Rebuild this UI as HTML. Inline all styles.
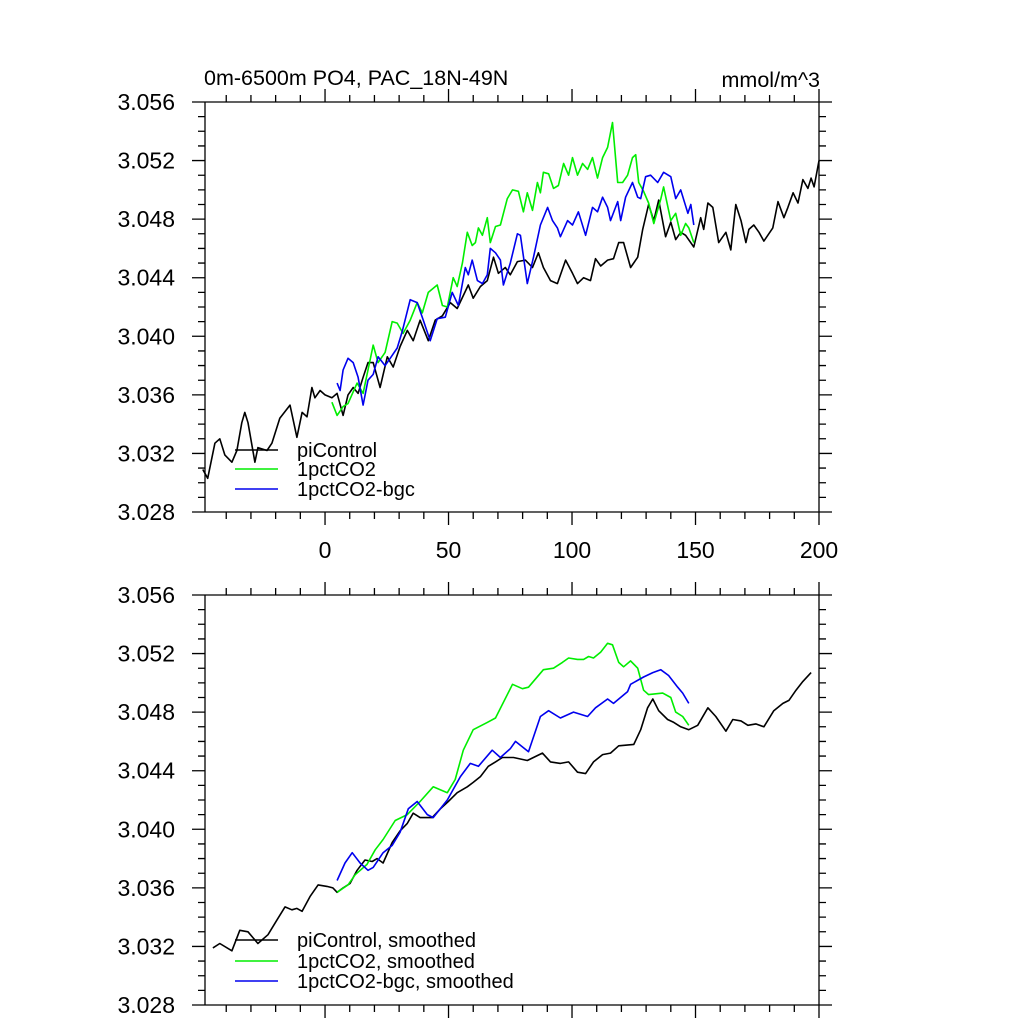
<!DOCTYPE html>
<html><head><meta charset="utf-8"><style>
body{margin:0;background:#fff}
svg{display:block;font-family:"Liberation Sans",Arial,sans-serif}
</style></head><body>
<svg id="chart" width="1024" height="1024" viewBox="0 0 1024 1024" xmlns="http://www.w3.org/2000/svg">
<text x="204" y="85" font-size="21.5">0m-6500m PO4, PAC_18N-49N</text>
<text x="820" y="87" font-size="21.5" text-anchor="end">mmol/m^3</text>
<g id="top"></g>
<g id="bot"></g>
</svg>
<script>
const xTicks=[0,50,100,150,200];
const yTicks=[3.028,3.032,3.036,3.040,3.044,3.048,3.052,3.056];
const piYears=[-49.5,-47.5,-44.6,-42.6,-40.6,-37.7,-35.7,-33.7,-32.5,-31.2,-28.4,-27.2,-23.5,-21.5,-18.3,-14.2,-11.4,-9.3,-7.3,-5.3,-4.1,-2,0,2.8,4.9,7.3,9.3,11.4,13.4,15.4,17.4,19.5,22.3,25.2,27.6,30.4,33.3,35.7,38.5,41.8,44.6,47.5,50.7,53.5,58,60,62.9,65.7,68.2,70.2,73,75,77.9,81.1,84,86.4,88.4,91.3,94.1,97.4,100.2,102.2,104.7,107.5,109.5,111.6,114.4,116.8,118.9,120.9,123.7,126.6,128.6,131,133.1,135.1,137.9,140,142,144,146,149.3,152.1,153.3,155,157,159.4,162.3,164.3,166.3,168.4,170.4,171.6,173.6,175.7,177.7,181.3,183.4,185.8,187.4,189.5,191.5,193.5,195.5,196.8,198,200];
const piRaw=[3.0309,3.0303,3.0327,3.0330,3.0319,3.0314,3.0322,3.0341,3.0348,3.0341,3.0314,3.0324,3.0322,3.0327,3.0344,3.0353,3.0331,3.0348,3.0345,3.0365,3.0358,3.0363,3.0360,3.0358,3.0361,3.0346,3.0360,3.0365,3.0361,3.0372,3.0382,3.0382,3.0365,3.0386,3.0379,3.0393,3.0404,3.0397,3.0411,3.0397,3.0411,3.0414,3.0423,3.0419,3.0435,3.0426,3.0434,3.0438,3.0454,3.0443,3.0447,3.0442,3.0451,3.0452,3.0447,3.0457,3.0447,3.0438,3.0436,3.0452,3.0443,3.0436,3.0440,3.0438,3.0453,3.0448,3.0452,3.0453,3.0464,3.0464,3.0447,3.0454,3.0473,3.0490,3.0479,3.0493,3.0468,3.0478,3.0466,3.0471,3.0469,3.0461,3.0481,3.0473,3.0491,3.0488,3.0464,3.0471,3.0459,3.0490,3.0479,3.0464,3.0473,3.0476,3.0471,3.0465,3.0474,3.0492,3.0481,3.0488,3.0498,3.0491,3.0507,3.0501,3.0508,3.0502,3.0520];
const co2Years=[2.8,4.9,7.3,9.3,13,15.4,19.5,21.5,24.3,27.2,29.2,31.6,34.5,37.3,39.4,41.8,45.4,47.5,49.5,51.9,53.5,55.6,57.6,59.6,60.9,62.1,63.7,65.7,66.9,69,71,73.8,75.9,78.3,80.3,81.9,84,86,87.2,88.4,90.5,92.5,94.5,96.6,98.6,100.2,102.2,104.3,106.3,108.3,110.3,112.4,114.4,116.4,118.5,120.5,122.5,124.5,125.8,127,129,131,133.1,136,137.1,140,142,144,146,147.3,149.3];
const co2Raw=[3.0355,3.0346,3.0352,3.0354,3.0368,3.0361,3.0394,3.0382,3.0389,3.0410,3.0409,3.0402,3.0411,3.0423,3.0416,3.0430,3.0435,3.0421,3.0420,3.0440,3.0434,3.0450,3.0471,3.0462,3.0464,3.0474,3.0469,3.0481,3.0464,3.0475,3.0476,3.0494,3.0500,3.0499,3.0485,3.0498,3.0486,3.0505,3.0498,3.0512,3.0511,3.0501,3.0503,3.0518,3.0510,3.0522,3.0510,3.0518,3.0514,3.0522,3.0508,3.0522,3.0529,3.0546,3.0505,3.0505,3.0510,3.0522,3.0524,3.0505,3.0499,3.0491,3.0477,3.0494,3.0502,3.0479,3.0484,3.0469,3.0477,3.0474,3.0464];
const bgcYears=[4.9,6.1,7.3,9.3,11.4,13.4,15.4,17.4,19.5,21.5,24.3,26.4,29.2,31.2,34.5,37.3,39.8,42.6,45.4,48.7,51.5,54,56.8,58,59.6,61.7,63.7,65.7,66.9,69,71,72.2,75,77.9,79.1,81.9,84.4,87.2,90.1,92.1,94.1,95.3,98.2,100.2,102.6,105.5,108.3,110.3,112.4,114.4,115.6,118.5,119.7,121.7,124.5,126.6,127.8,129.8,131.8,134.7,137.1,140,142,144,146.9,148.1,149.3];
const bgcRaw=[3.0368,3.0363,3.0377,3.0385,3.0382,3.0372,3.0353,3.0370,3.0374,3.0386,3.0380,3.0385,3.0392,3.0403,3.0425,3.0423,3.0411,3.0397,3.0412,3.0413,3.0430,3.0421,3.0447,3.0442,3.0452,3.0438,3.0436,3.0442,3.0460,3.0457,3.0452,3.0435,3.0450,3.0470,3.0469,3.0436,3.0454,3.0476,3.0488,3.0479,3.0474,3.0468,3.0479,3.0476,3.0485,3.0469,3.0488,3.0485,3.0495,3.0488,3.0479,3.0492,3.0479,3.0495,3.0505,3.0495,3.0494,3.0509,3.0510,3.0505,3.0512,3.0509,3.0494,3.0500,3.0484,3.0490,3.0476];
const piSmYears=[-45.4,-42.6,-37.7,-34.5,-31.2,-27.2,-23.1,-19.5,-16.2,-13.4,-11.4,-9.3,-6.1,-2.8,0.8,3.2,4.9,7.3,10.1,13,16.2,19.1,21.1,23.5,27.2,30.4,33.3,35.7,38.5,43.4,46.7,49.9,53.5,57.6,60,62.9,66.1,69,71.8,76.3,81.9,88,91.3,95.3,98.6,102.2,105.5,108.7,112.4,115.6,118.9,125,127.8,130.6,132.7,135.1,138.7,141.2,144,147.3,150.9,155,158.2,162.3,165.1,168.4,171.2,174.4,177.7,181.7,185.4,187.8,190.7,193.5,196.8];
const piSm=[3.0319,3.0322,3.0317,3.0331,3.0330,3.0322,3.0328,3.0338,3.0347,3.0345,3.0346,3.0344,3.0354,3.0362,3.0361,3.0360,3.0357,3.0360,3.0363,3.0372,3.0379,3.0378,3.0380,3.0377,3.0391,3.0399,3.0404,3.0411,3.0408,3.0408,3.0414,3.0419,3.0425,3.0429,3.0432,3.0436,3.0443,3.0446,3.0449,3.0449,3.0447,3.0452,3.0446,3.0445,3.0446,3.0439,3.0438,3.0446,3.0451,3.0452,3.0457,3.0458,3.0468,3.0483,3.0489,3.0481,3.0475,3.0473,3.0470,3.0468,3.0471,3.0483,3.0477,3.0467,3.0475,3.0474,3.0471,3.0472,3.0470,3.0481,3.0486,3.0488,3.0495,3.0501,3.0507];
const co2SmYears=[4.9,9.3,12.2,17,20.3,23.5,28.4,33.3,38.5,43.8,49.5,52.7,56,60,65.7,69,75.9,79.9,82.4,88.4,92.5,96.1,98.6,102.2,104.7,106.7,108.7,111.6,114.4,116.4,118.9,120.9,123.7,126.6,129,131,136.7,140,142,144.8,147.3];
const co2Sm=[3.0357,3.0362,3.0369,3.0376,3.0386,3.0393,3.0406,3.0410,3.0419,3.0429,3.0425,3.0434,3.0454,3.0468,3.0473,3.0476,3.0499,3.0496,3.0497,3.0509,3.0510,3.0514,3.0517,3.0516,3.0516,3.0518,3.0517,3.0521,3.0527,3.0526,3.0514,3.0511,3.0515,3.0510,3.0495,3.0492,3.0493,3.0490,3.0480,3.0477,3.0471];
const bgcSmYears=[4.9,8.1,11,14.2,17.4,19.5,23.5,27.2,30.4,33.7,37.3,41.4,43.8,49.5,54.8,58.8,62.1,67.7,71,75,77.1,82.4,87.2,90.5,95.3,100.6,106.3,109.5,114.4,116.8,122.5,123.7,129,132.7,135.9,139.1,142.8,144.8,147.3];
const bgcSm=[3.0365,3.0377,3.0384,3.0377,3.0372,3.0374,3.0384,3.0389,3.0398,3.0414,3.0419,3.0410,3.0408,3.0420,3.0436,3.0445,3.0443,3.0454,3.0449,3.0455,3.0460,3.0453,3.0477,3.0481,3.0476,3.0480,3.0477,3.0483,3.0489,3.0486,3.0494,3.0499,3.0504,3.0507,3.0509,3.0505,3.0497,3.0493,3.0486];

const NS="http://www.w3.org/2000/svg";
const X0=205,X1=819,XMIN=-48.6,XMAX=200;
function xs(v){return X0+(v-XMIN)/(XMAX-XMIN)*(X1-X0);}
function mk(tag,attrs,parent){const e=document.createElementNS(NS,tag);for(const k in attrs)e.setAttribute(k,attrs[k]);parent.appendChild(e);return e;}

function panel(g,top,bottom,showX,series,legend){
  const ys=v=>bottom-(v-3.028)/(0.028)*(bottom-top);
  const L=13,M=7;
  let d=`M${X0-L},${top}H${X1+L}M${X0-L},${bottom}H${X1+L}M${X0},${top}V${bottom}M${X1},${top}V${bottom}`;
  for(let v=-40;v<=200;v+=10){const x=xs(v);const len=(v%50===0)?L:M;d+=`M${x},${top}v${-len}M${x},${bottom}v${len}`;}
  for(let i=0;i<=28;i++){const y=bottom-i*(bottom-top)/28;const len=(i%4===0)?L:M;d+=`M${X0},${y}h${-len}M${X1},${y}h${len}`;}
  const ax=mk('path',{d:d,stroke:'#000','stroke-width':1.3,fill:'none'},g);
  
  
  yTicks.forEach(v=>{const t=mk('text',{x:175,y:ys(v)+8,'font-size':23,'text-anchor':'end'},g);t.textContent=v.toFixed(3);
    
    });
  if(showX) xTicks.forEach(v=>{const t=mk('text',{x:xs(v),y:558,'font-size':23,'text-anchor':'middle'},g);t.textContent=v;
    
    });
  series.forEach(s=>{
    const p=s.xs.map((x,i)=>(i?'L':'M')+xs(x).toFixed(1)+','+ys(s.ys[i]).toFixed(1)).join('');
    const el=mk('path',{d:p,stroke:s.c,'stroke-width':1.6,fill:'none','stroke-linejoin':'round'},g);
    
    
  });
  legend.forEach((l,i)=>{
    const y=l.y;
    const ln=mk('line',{x1:235,x2:278,y1:y,y2:y,stroke:l.c,'stroke-width':1.6},g);
    
    
    const t=mk('text',{x:297,y:y+7,'font-size':20},g);t.textContent=l.t;
    
    
  });
}
panel(document.getElementById('top'),102,512,true,[
 {xs:piYears,ys:piRaw,c:'#000',n:'picontrol-line'},
 {xs:co2Years,ys:co2Raw,c:'#00ee00',n:'1pctco2-line'},
 {xs:bgcYears,ys:bgcRaw,c:'#0000ee',n:'1pctco2-bgc-line'}],
 [{y:450,c:'#000',t:'piControl'},{y:469,c:'#00ee00',t:'1pctCO2'},{y:489,c:'#0000ee',t:'1pctCO2-bgc'}]);
panel(document.getElementById('bot'),595,1005,false,[
 {xs:piSmYears,ys:piSm,c:'#000',n:'picontrol-smoothed-line'},
 {xs:co2SmYears,ys:co2Sm,c:'#00ee00',n:'1pctco2-smoothed-line'},
 {xs:bgcSmYears,ys:bgcSm,c:'#0000ee',n:'1pctco2-bgc-smoothed-line'}],
 [{y:940,c:'#000',t:'piControl, smoothed'},{y:961,c:'#00ee00',t:'1pctCO2, smoothed'},{y:981,c:'#0000ee',t:'1pctCO2-bgc, smoothed'}]);
</script>
</body></html>
